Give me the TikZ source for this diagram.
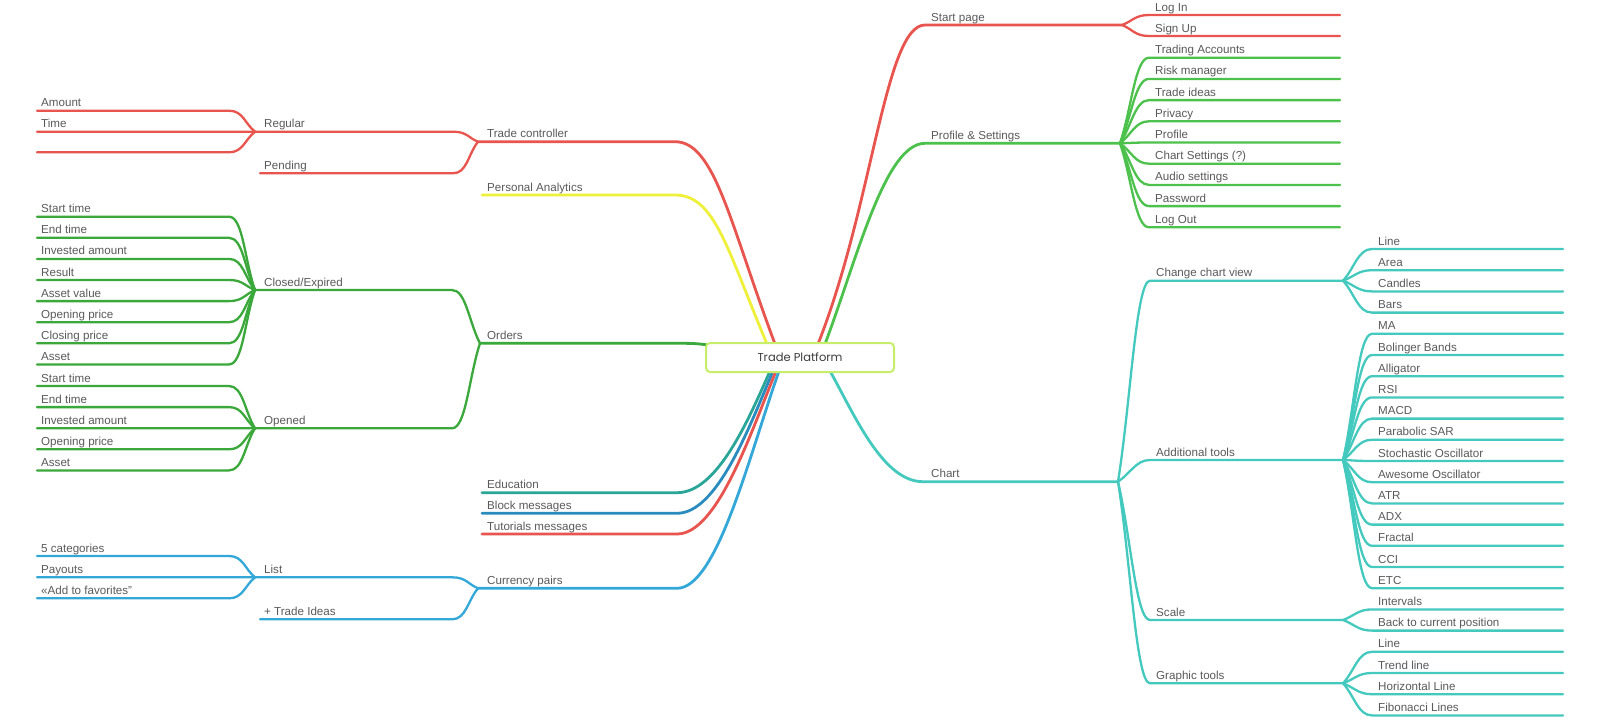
\documentclass[tikz,border=0pt]{standalone}
\usepackage{fontspec}
\setmainfont{Liberation Sans}
\newfontfamily\hubfont{Poppins}
\usetikzlibrary{calc,backgrounds}
\definecolor{cRed}{HTML}{E8544E}
\definecolor{cYel}{HTML}{EEF03A}
\definecolor{cGrnD}{HTML}{3AA83A}
\definecolor{cGrnL}{HTML}{4CC24C}
\definecolor{cTeal}{HTML}{44C9BE}
\definecolor{cTealD}{HTML}{2AA699}
\definecolor{cBlueD}{HTML}{2A8CBE}
\definecolor{cBlue}{HTML}{33A8D8}
\definecolor{cBox}{HTML}{C6EE6B}
\definecolor{cTxt}{HTML}{5A5A5A}
\definecolor{cHubTxt}{HTML}{3C3C3C}
\tikzset{
 lab/.style={anchor=base west, inner sep=0pt, text=cTxt, font=\fontsize{11.6}{13}\selectfont},
 br/.style={line width=2.3pt, line cap=round},
 trunk/.style={line width=2.8pt, line cap=round},
 hub/.style={draw=cBox, line width=2pt, fill=white, rounded corners=4pt, minimum width=188pt, minimum height=29pt, inner sep=0pt, text=cHubTxt, font=\hubfont\fontsize{11.5}{13}\selectfont},
}
% right fan: name, colour, junction, px, y, line end x, text
\newcommand\fanR[7]{%
 \coordinate (#1-p) at (#4,#5);
 \coordinate (#1-e) at (#6,#5);
 \draw[br,#2] (#3) .. controls ($(#3)!0.4!(#1-p)$) and +(-14,0) .. (#1-p) -- (#1-e);
 \node[lab] (#1) at ($(#1-p)+(6,-4)$) {#7};}
% left fan: name, colour, junction, px, y, line end x, label x, text
\newcommand\fanL[8]{%
 \coordinate (#1-p) at (#4,#5);
 \coordinate (#1-e) at (#6,#5);
 \draw[br,#2] (#3) .. controls ($(#3)!0.4!(#1-p)$) and +(14,0) .. (#1-p) -- (#1-e);
 \node[lab] (#1) at (#7,#5-4) {#8};}
% left trunk: name, colour, start, c1 offset, Ex, Ey, line end x, text
\newcommand\trunkL[8]{%
 \coordinate (#1-p) at (#5,#6);
 \coordinate (#1-e) at (#7,#6);
 \draw[trunk,#2] (#3) .. controls +(#4) and +(40,0) .. (#1-p) -- (#1-e);
 \node[lab] (#1) at (487,#6-4) {#8};}
% right trunk
\newcommand\trunkR[8]{%
 \coordinate (#1-p) at (#5,#6);
 \coordinate (#1-e) at (#7,#6);
 \draw[trunk,#2] (#3) .. controls +(#4) and +(-40,0) .. (#1-p) -- (#1-e);
 \node[lab] (#1) at (931,#6-4) {#8};}
\begin{document}
\begin{tikzpicture}[x=1pt,y=-1pt]
\useasboundingbox (0,0) rectangle (1600,718);
\node[hub] (hub) at (800,357.5) {Trade Platform};
\begin{scope}[on background layer]
\fill[white] (0,0) rectangle (1600,718);
% start points on the hub
\coordinate (tcS) at ($(hub.north)+(-25,2)$);
\coordinate (paS) at ($(hub.north)+(-33,2)$);
\coordinate (spS) at ($(hub.north)+(18,2)$);
\coordinate (psS) at ($(hub.north)+(25,2)$);
\coordinate (chS) at ($(hub.south)+(30,-2)$);
\coordinate (edS) at ($(hub.south)+(-30,-2)$);
\coordinate (bmS) at ($(hub.south)+(-27,-2)$);
\coordinate (tmS) at ($(hub.south)+(-24,-2)$);
\coordinate (cpS) at ($(hub.south)+(-21,-2)$);
\coordinate (orS) at ($(hub.west)+(6,-12)$);
% ---------- left top ----------
\trunkL{pa}{cYel}{paS}{-40,-95}{675}{195}{482}{Personal Analytics}
\trunkL{tc}{cRed}{tcS}{-45,-120}{675}{141.7}{478}{Trade controller}
\fanL{reg}{cRed}{tc-e}{453}{131.7}{255}{264}{Regular}
\fanL{pen}{cRed}{tc-e}{453}{173.3}{260}{264}{Pending}
\fanL{am}{cRed}{reg-e}{229}{110.7}{37}{41}{Amount}
\fanL{tim}{cRed}{reg-e}{229}{131.7}{37}{41}{Time}
\fanL{rg3}{cRed}{reg-e}{229}{152.3}{37}{41}{}
% ---------- orders ----------
\coordinate (or-p) at (680,343.3);
\coordinate (or-e) at (480,343.3);
\draw[trunk,cGrnD] (orS) .. controls +(-12,-2) and +(12,0) .. (or-p) -- (or-e);
\node[lab] (or) at (487,339.3) {Orders};
\fanL{ce}{cGrnD}{or-e}{452}{290}{255}{264}{Closed/Expired}
\fanL{op}{cGrnD}{or-e}{452}{428.3}{255}{264}{Opened}
\foreach \lbl [count=\i] in {Start time,End time,Invested amount,Result,Asset value,Opening price,Closing price,Asset}{
 \pgfmathsetmacro\yy{216.7+21.1*(\i-1)}
 \fanL{cl\i}{cGrnD}{ce-e}{229}{\yy}{37}{41}{\lbl}}
\foreach \lbl [count=\i] in {Start time,End time,Invested amount,Opening price,Asset}{
 \pgfmathsetmacro\yy{386+21.1*(\i-1)}
 \fanL{oo\i}{cGrnD}{op-e}{229}{\yy}{37}{41}{\lbl}}
% ---------- left bottom ----------
\trunkL{ed}{cTealD}{edS}{-22,50}{677}{492.7}{482}{Education}
\trunkL{bm}{cBlueD}{bmS}{-24,57}{677}{513.3}{482}{Block messages}
\trunkL{tm}{cRed}{tmS}{-26,64}{677}{534}{482}{Tutorials messages}
\trunkL{cp}{cBlue}{cpS}{-30,85}{677}{588.3}{478}{Currency pairs}
\fanL{ls}{cBlue}{cp-e}{452}{577.3}{255}{264}{List}
\fanL{ti}{cBlue}{cp-e}{452}{619.3}{260}{264}{+ Trade Ideas}
\fanL{lc1}{cBlue}{ls-e}{229}{556}{37}{41}{5 categories}
\fanL{lc2}{cBlue}{ls-e}{229}{577.3}{37}{41}{Payouts}
\fanL{lc3}{cBlue}{ls-e}{229}{598.3}{37}{41}{«Add to favorites”}
% ---------- right top ----------
\trunkR{sp}{cRed}{spS}{55,-139}{925}{25}{1122}{Start page}
\fanR{li}{cRed}{sp-e}{1149}{15}{1340}{Log In}
\fanR{su}{cRed}{sp-e}{1149}{36}{1340}{Sign Up}
\trunkR{ps}{cGrnL}{psS}{32,-85}{925}{143.3}{1120}{Profile \& Settings}
\foreach \lbl [count=\i] in {Trading Accounts,Risk manager,Trade ideas,Privacy,Profile,Chart Settings (?),Audio settings,Password,Log Out}{
 \pgfmathsetmacro\yy{57.7+21.2*(\i-1)}
 \fanR{pf\i}{cGrnL}{ps-e}{1149}{\yy}{1340}{\lbl}}
% ---------- chart ----------
\trunkR{ch}{cTeal}{chS}{25,45}{923}{481.7}{1118}{Chart}
\fanR{cv}{cTeal}{ch-e}{1150}{280.7}{1343}{Change chart view}
\fanR{at}{cTeal}{ch-e}{1150}{460}{1343}{Additional tools}
\fanR{sc}{cTeal}{ch-e}{1150}{620}{1343}{Scale}
\fanR{gt}{cTeal}{ch-e}{1150}{683.3}{1343}{Graphic tools}
\foreach \lbl [count=\i] in {Line,Area,Candles,Bars}{
 \pgfmathsetmacro\yy{249+21.2*(\i-1)}
 \fanR{v\i}{cTeal}{cv-e}{1372}{\yy}{1563}{\lbl}}
\foreach \lbl [count=\i] in {MA,Bolinger Bands,Alligator,RSI,MACD,Parabolic SAR,Stochastic Oscillator,Awesome Oscillator,ATR,ADX,Fractal,CCI,ETC}{
 \pgfmathsetmacro\yy{333.8+21.2*(\i-1)}
 \fanR{a\i}{cTeal}{at-e}{1372}{\yy}{1563}{\lbl}}
\fanR{s1}{cTeal}{sc-e}{1372}{609.4}{1563}{Intervals}
\fanR{s2}{cTeal}{sc-e}{1372}{630.6}{1563}{Back to current position}
\foreach \lbl [count=\i] in {Line,Trend line,Horizontal Line,Fibonacci Lines}{
 \pgfmathsetmacro\yy{651.8+21.2*(\i-1)}
 \fanR{g\i}{cTeal}{gt-e}{1372}{\yy}{1563}{\lbl}}
\end{scope}
\end{tikzpicture}
\end{document}
